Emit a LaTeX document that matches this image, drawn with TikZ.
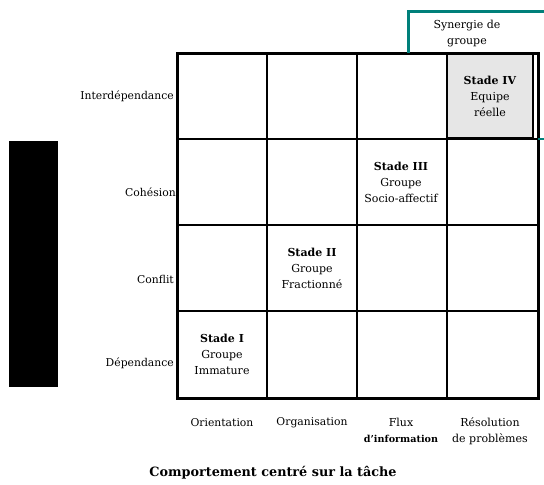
\documentclass[tikz,border=0pt]{standalone}
\usepackage{fontspec}
\setmainfont{DejaVu Serif}
\definecolor{synteal}{HTML}{00807A}
\definecolor{stagegray}{HTML}{E6E6E6}
\begin{document}
\begin{tikzpicture}[x=1pt,y=-1pt,
  lbl/.style={font=\fontsize{10.8}{12}\selectfont, inner sep=0pt},
  stage/.style={font=\fontsize{11}{16}\selectfont, align=center, inner sep=0pt},
  thin/.style={line width=1.6pt},
  thick/.style={line width=3pt}]
\useasboundingbox (0,0) rectangle (544,485);

% shaded cell of the fourth stage
\fill[stagegray] (447,53) rectangle (533,138);
\draw[line width=1.2pt] (447,53) rectangle (533,138);

% inner grid lines
\foreach \x in {267,357,447} \draw[thin] (\x,53) -- (\x,398);
\foreach \y in {139,225,311} \draw[thin] (177,\y) -- (538,\y);

% outer frame
\draw[thick] (177,53) rectangle (538,398);

% synergy bracket
\coordinate (s1) at (408,53);
\coordinate (s2) at (408,11);
\coordinate (s3) at (544,11);
\draw[synteal, line width=3pt] (s1) -- (s2) -- (s3);
\coordinate (t1) at (538,139);
\coordinate (t2) at (544,139);
\draw[synteal, line width=1.5pt] (t1) -- (t2);
\node[stage, font=\fontsize{11}{16}\selectfont] (syn) at (467,34) {Synergie de\\groupe};

% vertical axis bar
\fill (9,141) rectangle (58,387);

% row labels
\node[lbl, anchor=east] (r4) at (174,96) {Interdépendance};
\node[lbl, anchor=east] (r3) at (176,192) {Cohésion};
\node[lbl, anchor=east] (r2) at (174,279) {Conflit};
\node[lbl, anchor=east] (r1) at (174,363) {Dépendance};

% column labels
\node[lbl] (c1) at (222,423) {Orientation};
\node[lbl] (c2) at (312,423) {Organisation};
\node[stage] (c3) at (401,430) {Flux\\{\fontsize{9.6}{10}\selectfont\bfseries d'information}};
\node[stage] (c4) at (490,431) {Résolution\\de problèmes};

% stages
\node[stage] (st1) at (222,354) {\textbf{Stade I}\\Groupe\\Immature};
\node[stage] (st2) at (312,268) {\textbf{Stade II}\\Groupe\\Fractionné};
\node[stage] (st3) at (401,182) {\textbf{Stade III}\\Groupe\\Socio-affectif};
\node[stage] (st4) at (490,96) {\textbf{Stade IV}\\Equipe\\réelle};

% axis title
\node[inner sep=0pt, font=\fontsize{12.8}{15}\selectfont\bfseries] (title) at (273,473) {Comportement centré sur la tâche};
\end{tikzpicture}
\end{document}
